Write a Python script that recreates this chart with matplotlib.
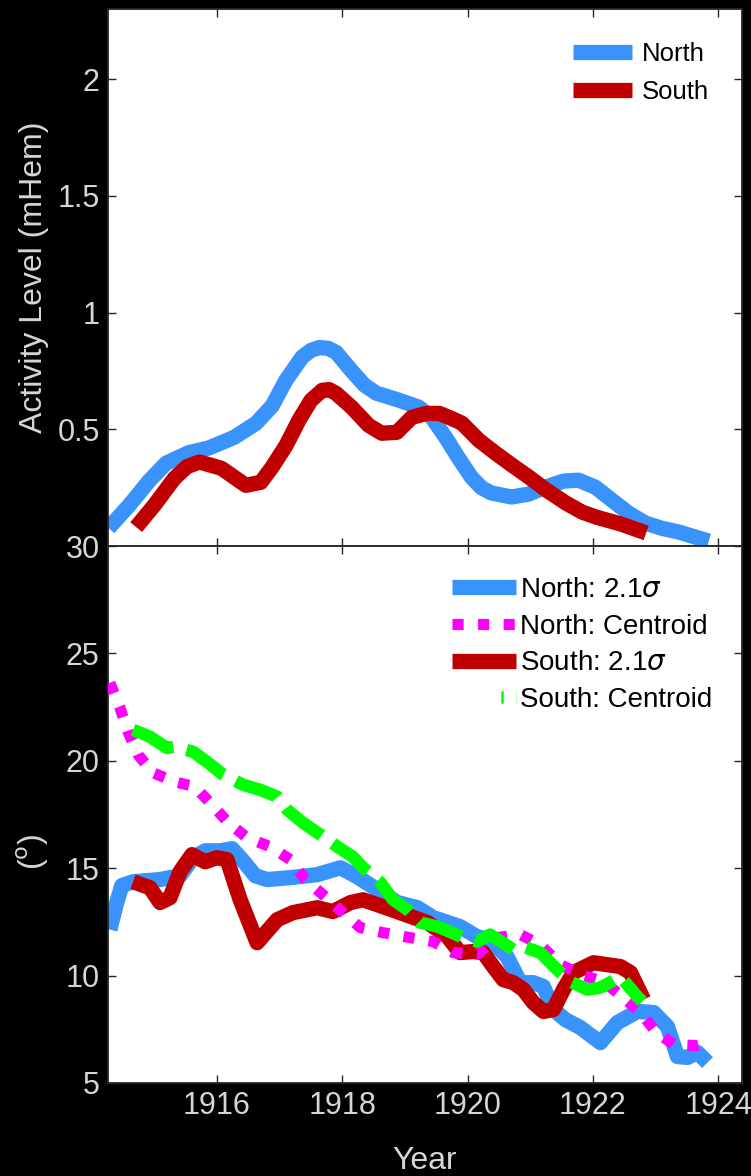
import numpy             as np
import matplotlib.pyplot as plt


plt.rcParams['font.family'] = ['Liberation Sans', 'DejaVu Sans']
plt.rcParams['mathtext.fontset'] = 'dejavusans'

# ---------------- activity level (mHem) ----------------
act_n_year = [1914.27, 1914.60, 1914.92, 1915.19, 1915.55, 1915.87, 1916.27, 1916.62,
              1916.88, 1917.10, 1917.36, 1917.50, 1917.63, 1917.77, 1917.90, 1918.15,
              1918.35, 1918.54, 1918.90, 1919.22, 1919.43, 1919.65, 1919.86, 1920.06,
              1920.22, 1920.38, 1920.70, 1920.97, 1921.24, 1921.53, 1921.77, 1922.04,
              1922.30, 1922.57, 1922.84, 1923.10, 1923.37, 1923.85]
act_n      = [0.077, 0.175, 0.280, 0.355, 0.400, 0.420, 0.465, 0.525,
              0.600, 0.710, 0.810, 0.838, 0.850, 0.847, 0.830, 0.750,
              0.690, 0.655, 0.625, 0.595, 0.550, 0.465, 0.375, 0.295,
              0.250, 0.227, 0.210, 0.222, 0.252, 0.278, 0.282, 0.252,
              0.197, 0.141, 0.098, 0.076, 0.060, 0.021]

act_s_year = [1914.71, 1915.00, 1915.32, 1915.52, 1915.72, 1916.07, 1916.46, 1916.70,
              1916.88, 1917.10, 1917.31, 1917.50, 1917.68, 1917.79, 1917.90, 1918.15,
              1918.42, 1918.63, 1918.87, 1919.11, 1919.34, 1919.55, 1919.74, 1919.91,
              1920.18, 1920.45, 1920.71, 1920.98, 1921.26, 1921.57, 1921.83, 1922.05,
              1922.45, 1922.85]
act_s      = [0.081, 0.175, 0.290, 0.340, 0.360, 0.333, 0.260, 0.273,
              0.338, 0.430, 0.540, 0.624, 0.667, 0.670, 0.654, 0.594,
              0.517, 0.483, 0.487, 0.551, 0.568, 0.568, 0.547, 0.526,
              0.453, 0.397, 0.346, 0.295, 0.239, 0.184, 0.145, 0.124,
              0.094, 0.056]

# ---------------- latitude (degrees) ----------------
sig_n_year = [1914.29, 1914.39, 1914.48, 1914.66, 1915.09, 1915.41, 1915.62, 1915.81,
              1916.05, 1916.24, 1916.40, 1916.61, 1916.80, 1917.17, 1917.60, 1917.97,
              1918.24, 1918.56, 1918.88, 1919.20, 1919.45, 1919.88, 1920.15, 1920.36,
              1920.63, 1920.84, 1921.05, 1921.21, 1921.37, 1921.56, 1921.80, 1922.12,
              1922.39, 1922.71, 1922.97, 1923.19, 1923.35, 1923.51, 1923.67, 1923.83]
sig_n      = [12.14, 13.30, 14.19, 14.37, 14.47, 14.65, 15.49, 15.81,
              15.81, 15.91, 15.40, 14.65, 14.47, 14.56, 14.70, 15.02,
              14.60, 14.00, 13.40, 13.16, 12.70, 12.28, 11.81, 11.67,
              10.88,  9.67,  9.67,  9.49,  8.42,  7.95,  7.58,  6.88,
               7.81,  8.33,  8.28,  7.63,  6.23,  6.19,  6.42,  5.95]

sig_s_year = [1914.66, 1914.93, 1915.09, 1915.25, 1915.41, 1915.60, 1915.81, 1916.00,
              1916.16, 1916.37, 1916.64, 1916.96, 1917.21, 1917.60, 1917.85, 1918.13,
              1918.33, 1918.65, 1918.92, 1919.36, 1919.68, 1919.88, 1920.09, 1920.25,
              1920.41, 1920.57, 1920.73, 1920.89, 1921.05, 1921.21, 1921.37, 1921.53,
              1921.69, 1922.01, 1922.44, 1922.60, 1922.81]
sig_s      = [14.37, 14.09, 13.40, 13.63, 14.84, 15.63, 15.30, 15.49,
              15.40, 13.53, 11.53, 12.60, 12.93, 13.16, 12.98, 13.40,
              13.53, 13.21, 12.93, 12.47, 11.81, 11.07, 11.12, 11.07,
              10.42,  9.81,  9.67,  9.35,  8.74,  8.33,  8.42,  9.35,
              10.14, 10.60, 10.42, 10.14,  8.88]

cen_n_year = [1914.29, 1914.45, 1914.58, 1914.74, 1914.98, 1915.33, 1915.65, 1915.92,
              1916.18, 1916.48, 1916.85, 1917.17, 1917.41, 1917.73, 1918.01, 1918.29,
              1918.65, 1919.08, 1919.45, 1919.77, 1920.15, 1920.47, 1920.84, 1921.16,
              1921.48, 1921.80, 1922.17, 1922.47, 1922.76, 1923.00, 1923.29, 1923.68,
              1923.91]
cen_n      = [23.63, 22.47, 21.35, 20.28, 19.44, 19.02, 18.79, 17.95,
              17.12, 16.42, 16.00, 15.40, 14.47, 13.67, 12.93, 12.23,
              12.00, 11.77, 11.58, 11.07, 10.98, 11.77, 11.91, 11.44,
              10.51, 10.05,  9.72,  9.02,  8.28,  7.40,  6.79,  6.74,
               6.88]

cen_s_year = [1914.66, 1914.93, 1915.20, 1915.33, 1915.62, 1915.84, 1916.10, 1916.42,
              1916.69, 1916.96, 1917.12, 1917.37, 1917.65, 1917.92, 1918.17, 1918.33,
              1918.61, 1918.81, 1919.04, 1919.24, 1919.52, 1919.93, 1920.15, 1920.36,
              1920.73, 1920.89, 1921.16, 1921.43, 1921.64, 1921.91, 1922.12, 1922.44,
              1922.71, 1922.79]
cen_s      = [21.44, 21.12, 20.60, 20.65, 20.42, 19.95, 19.35, 18.88,
              18.65, 18.33, 17.72, 17.12, 16.56, 16.00, 15.53, 15.02,
              14.33, 13.53, 13.07, 12.47, 12.28, 11.77, 11.58, 11.91,
              11.21, 11.35, 11.07, 10.28,  9.72,  9.35,  9.44,  9.95,
               9.02,  8.79]

year_ticks = [1916, 1918, 1920, 1922, 1924]

Blue    = '#3a93fb'
Red     = '#c00000'
Magenta = '#ff00ff'
Green   = '#00ff00'
TxtGray = '#d6d6d6'
AxGray  = '#262626'


fig = plt.figure(figsize=(7.51, 11.76), dpi=100, facecolor='black')

ax0 = fig.add_axes([0.1438, 0.5357, 0.8442, 0.4566])
ax1 = fig.add_axes([0.1438, 0.0791, 0.8442, 0.4566])

for ax in (ax0, ax1):
    ax.set_facecolor('white')
    ax.set_xlim(1914.26, 1924.38)
    ax.set_xticks(year_ticks)
    ax.tick_params(direction='in', top=True, right=True, length=6, width=1.0,
                   color=AxGray, labelcolor=TxtGray, labelsize=22, pad=6)
    for sp in ax.spines.values():
        sp.set_color(AxGray)
        sp.set_linewidth(1.3)


# top panel : activity level
ax0.plot(act_n_year, act_n, color=Blue, lw=11, solid_capstyle='butt',
         solid_joinstyle='round', label='North', zorder=2)
ax0.plot(act_s_year, act_s, color=Red,  lw=11, solid_capstyle='butt',
         solid_joinstyle='round', label='South', zorder=3)

ax0.set_ylim(0, 2.3)
ax0.set_yticks([0.5, 1.0, 1.5, 2.0])
ax0.set_yticklabels(['0.5', '1', '1.5', '2'])
ax0.tick_params(labelbottom=False)
ax0.set_ylabel('Activity Level (mHem)', color=TxtGray, fontsize=23)
ax0.yaxis.set_label_coords(-0.093, 0.5)

leg0 = ax0.legend(loc='upper left', bbox_to_anchor=(0.733, 0.938), frameon=False,
                  fontsize=18.5, handlelength=2.3, handletextpad=0.4,
                  labelspacing=0.55, borderpad=0, borderaxespad=0)


# bottom panel : latitude
l_sn, = ax1.plot(sig_n_year, sig_n, color=Blue, lw=11, solid_capstyle='butt',
                 solid_joinstyle='round', label=r'North: 2.1$\sigma$', zorder=2)
l_ss, = ax1.plot(sig_s_year, sig_s, color=Red,  lw=11, solid_capstyle='butt',
                 solid_joinstyle='round', label=r'South: 2.1$\sigma$', zorder=3)
l_cn, = ax1.plot(cen_n_year, cen_n, color=Magenta, lw=8, linestyle=(0, (1.0, 1.3)),
                 dash_capstyle='butt', label='North: Centroid', zorder=4)
l_cs, = ax1.plot(cen_s_year, cen_s, color=Green, lw=9, linestyle=(0, (3.6, 1.1)),
                 dash_capstyle='butt', label='South: Centroid', zorder=5)

ax1.set_ylim(5, 30)
ax1.set_yticks([5, 10, 15, 20, 25, 30])
ax1.set_ylabel(r'($^{\mathrm{o}}$)', color=TxtGray, fontsize=23)
ax1.yaxis.set_label_coords(-0.090, 0.43)
ax1.set_xlabel('Year', color=TxtGray, fontsize=23)
ax1.xaxis.set_label_coords(0.5, -0.118)

leg1 = ax1.legend(handles=[l_sn, l_cn, l_ss, l_cs], loc='upper left',
                  bbox_to_anchor=(0.5426, 0.942), frameon=False,
                  fontsize=20, handlelength=2.3, handletextpad=0.14,
                  labelspacing=0.38, borderpad=0, borderaxespad=0)
# dashed sample only shows small slivers of green
leg1.get_lines()[3].set_linestyle((0, (0.001, 3.9, 0.2, 1.0, 0.1, 10)))


plt.savefig('out.png', dpi=100, facecolor='black')
